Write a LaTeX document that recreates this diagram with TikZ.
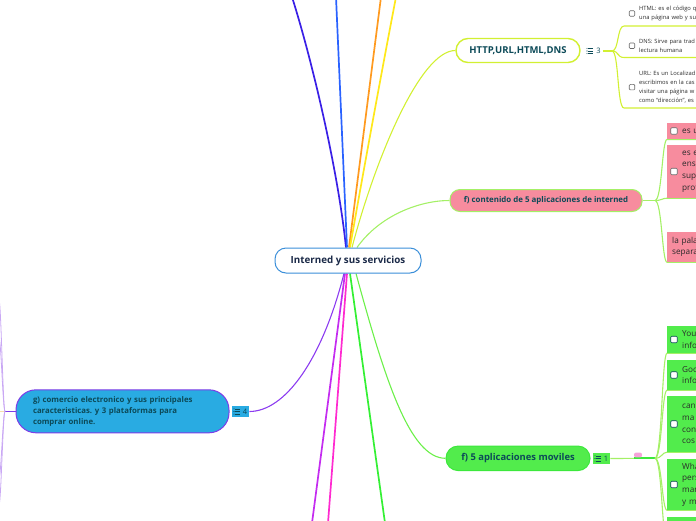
\documentclass[tikz,border=0pt]{standalone}
\usepackage{fontspec}
\setmainfont{Open Sans}
\usetikzlibrary{backgrounds}
\frenchspacing

\definecolor{rootblue}{HTML}{3B8FD9}
\definecolor{inknavy}{HTML}{1B2A48}
\definecolor{inkteal}{HTML}{0C4A58}
\definecolor{inkdark}{HTML}{2A2A2A}
\definecolor{boxgray}{HTML}{6A6A6A}
\definecolor{httpgreen}{HTML}{D2F032}
\definecolor{rosefill}{HTML}{F78C9E}
\definecolor{softgreen}{HTML}{A4F066}
\definecolor{cyanfill}{HTML}{29ABE2}
\definecolor{gpurple}{HTML}{7D3CE8}
\definecolor{lilac}{HTML}{C9A8F4}
\definecolor{beige}{HTML}{F6DDB0}
\definecolor{appgreen}{HTML}{52EC4C}
\definecolor{appline}{HTML}{3CE83C}
\definecolor{tagpink}{HTML}{F6A2DA}
\definecolor{cIndigo}{HTML}{3A20E6}
\definecolor{cBlue}{HTML}{2A62FF}
\definecolor{cOrange}{HTML}{FF9A1F}
\definecolor{cYellow}{HTML}{FFE81A}
\definecolor{cViolet}{HTML}{C42CF0}
\definecolor{cMagenta}{HTML}{FF2AD0}
\definecolor{cGreen}{HTML}{34F034}
\definecolor{cPurple}{HTML}{8C3CF0}
\definecolor{cAppCurve}{HTML}{6CF04A}

\tikzset{
  topic/.style={draw, line width=1pt, align=center, inner sep=0pt, text=inkteal},
  leaf/.style={anchor=west, minimum width=60pt, text width=50pt, align=left, inner xsep=3pt, inner ysep=0pt, font=\fontsize{8.2}{11.7}\selectfont, text=inkdark},
  chkleaf/.style={leaf, execute at begin node={\leftskip=10pt}},
  chk/.style={draw=boxgray, fill=white, rounded corners=1pt, minimum size=6.5pt, inner sep=0pt, line width=0.6pt},
  note/.style={anchor=south west, text width=80pt, align=left, inner xsep=0pt, inner ysep=5pt, font=\fontsize{5.8}{8.7}\selectfont, text=inkdark, execute at begin node={\leftskip=15pt}},
  badge/.style={inner xsep=2pt, inner ysep=0.5pt, minimum height=10.5pt, font=\fontsize{7.5}{7.5}\selectfont, text=inkteal},
  mainline/.style={line width=1.7pt},
  twig/.style={line width=1.1pt},
  listicon/.pic={
    \foreach \yy in {-2.6,0,2.6}{
      \fill (-3.2,\yy) circle (0.55);
      \draw[line width=0.6pt] (-1.8,\yy) -- (3.2,\yy);
    }
  }
}

\begin{document}
\begin{tikzpicture}[x=1pt, y=-1pt]
\useasboundingbox (0,0) rectangle (696,520);
\clip (0,0) rectangle (696,520);

% Nodes
\node[topic, draw=rootblue, fill=white, rounded corners=11pt, minimum width=146pt, minimum height=25pt, text=inknavy, font=\fontsize{9.8}{11}\bfseries\selectfont] (root) at (348,260.5) {Interned y sus servicios};
\node[topic, draw=httpgreen, line width=1.4pt, fill=white, rounded corners=12pt, minimum width=124pt, minimum height=24pt, font=\fontsize{9.5}{11}\bfseries\selectfont] (http) at (518,50.5) {HTTP,URL,HTML,DNS};
\node[topic, draw=softgreen, fill=rosefill, rounded corners=10pt, minimum width=192pt, minimum height=22pt, font=\fontsize{7.9}{9}\bfseries\selectfont] (contenido) at (546,200.5) {f) contenido de 5 aplicaciones de interned};
\node[topic, draw=gpurple, fill=cyanfill, rounded corners=20pt, minimum width=213pt, minimum height=43pt, text width=179pt, align=left, inner xsep=17pt, font=\fontsize{7.8}{11}\bfseries\selectfont] (comercio) at (122.5,411.3) {g) comercio electronico y sus principales\\caracteristicas. y 3 plataformas para\\comprar online.};
\node[topic, draw=appline, fill=appgreen, rounded corners=12pt, minimum width=144pt, minimum height=24.5pt, font=\fontsize{9.4}{11}\bfseries\selectfont] (moviles) at (518,458.3) {f) 5 aplicaciones moviles};

% Badges
\node[badge] (httpbadge) at (594,51) {\hspace{9pt}3};
\pic[inkteal] at ([xshift=5pt]httpbadge.west) {listicon};
\node[badge, fill=cyanfill] (combadge) at (240.5,411.5) {\hspace{9pt}4};
\pic[inkteal] at ([xshift=5.5pt]combadge.west) {listicon};
\node[badge, fill=appgreen] (movbadge) at (601.5,458.5) {\hspace{9pt}1};
\pic[inkteal] at ([xshift=5.5pt]movbadge.west) {listicon};
\node[fill=tagpink, rounded corners=2pt, minimum width=8pt, minimum height=4.8pt, inner sep=0pt] (tag) at (638,455) {};

% HTTP notes
\node[note] (html) at (624,26) {HTML: es el código q\\una página web y su};
\node[chk, minimum size=5.5pt] (htmlchk) at ([xshift=8pt]html.west) {};
\node[note] (dns) at (624,57.5) {DNS: Sirve para trad\\lectura humana};
\node[chk, minimum size=5.5pt] (dnschk) at ([xshift=8pt]dns.west) {};
\node[note] (url) at (624,108) {URL: Es un Localizad\\escribimos en la cas\\visitar una página w\\como ``dirección'', es};
\node[chk, minimum size=5.5pt] (urlchk) at ([xshift=8pt]url.west) {};

% contenido leaves
\node[chkleaf, fill=rosefill, minimum height=16.5pt] (rosa1) at (667,131) {es u};
\node[chk] (rosa1chk) at ([xshift=7pt]rosa1.west) {};
\node[chkleaf, fill=rosefill, minimum height=53pt] (rosa2) at (667,171.5) {es e\\ens\\sup\\prof};
\node[chk] (rosa2chk) at ([xshift=7pt]rosa2.west) {};
\node[leaf, fill=rosefill, minimum height=30pt] (rosa3) at (667,247) {la pala\\separa};

% moviles leaves
\node[chkleaf, fill=appgreen, minimum height=27pt] (app1) at (667,339.5) {You\\info};
\node[chk, draw=inkteal] (app1chk) at ([xshift=7pt]app1.west) {};
\node[chkleaf, fill=appgreen, minimum height=30pt] (app2) at (667,375) {Goo\\info};
\node[chk, draw=inkteal] (app2chk) at ([xshift=7pt]app2.west) {};
\node[chkleaf, fill=appgreen, minimum height=56pt] (app3) at (667,424) {can\\ma\\con\\cos};
\node[chk, draw=inkteal] (app3chk) at ([xshift=7pt]app3.west) {};
\node[chkleaf, fill=appgreen, minimum height=51pt] (app4) at (667,484.5) {Wha\\pers\\mar\\y m};
\node[chk, draw=inkteal] (app4chk) at ([xshift=7pt]app4.west) {};
\node[leaf, fill=appgreen, minimum height=24pt] (app5) at (667,529) {};

% free ends and forks
\coordinate (topIndigo) at (292,-3);
\coordinate (topBlue) at (336,-3);
\coordinate (topOrange) at (381,-3);
\coordinate (topYellow) at (396,-3);
\coordinate (botViolet) at (312,523);
\coordinate (botMagenta) at (328,523);
\coordinate (botGreen) at (385,523);
\coordinate (httpfork) at (612,51);
\coordinate (rosafork) at (655,200.5);
\coordinate (appfork) at (655,458.3);
\coordinate (comfork) at (5,411.3);
\coordinate (edgeA) at (-1,300);
\coordinate (edgeB) at (-1,338);
\coordinate (edgeC) at (-1,478);
\coordinate (edgeD) at (-1,505);

\begin{scope}[on background layer]
% Branches from the root
\draw[mainline, cIndigo] ([xshift=-2pt]root.north) .. controls (338,170) and (312,60) .. (topIndigo);
\draw[mainline, cBlue] ([xshift=-1pt]root.north) -- (topBlue);
\draw[mainline, cOrange] ([xshift=1pt]root.north) -- (topOrange);
\draw[mainline, cYellow] ([xshift=2pt]root.north) .. controls (360,190) and (380,80) .. (topYellow);
\draw[twig, httpgreen] ([xshift=4pt]root.north) .. controls (375,160) and (420,50.5) .. (http.west);
\draw[twig, softgreen] ([xshift=9pt]root.north) .. controls (380,215) and (420,200.5) .. (contenido.west);
\draw[mainline, cViolet] ([xshift=-3pt]root.south) -- (botViolet);
\draw[mainline, cMagenta] ([xshift=-1pt]root.south) -- (botMagenta);
\draw[mainline, cGreen] ([xshift=2pt]root.south) -- (botGreen);
\draw[twig, cAppCurve] ([xshift=8pt]root.south) .. controls (385,380) and (410,458.3) .. (moviles.west);
\draw[twig, cPurple] ([xshift=-4pt]root.south) .. controls (322,360) and (285,411.5) .. (combadge.east);

% HTTP children
\draw[twig, httpgreen] (httpbadge.east) -- (httpfork);
\foreach \kid in {html, dns, url}
  \draw[twig, httpgreen] (httpfork) .. controls (619,51) and (617,0 |- \kid.south west) .. (\kid.south west) -- (\kid.south east);

% contenido children
\draw[twig, softgreen] (contenido.east) -- (rosafork);
\foreach \kid in {rosa1, rosa2, rosa3}
  \draw[twig, softgreen] (rosafork) .. controls (662,200.5) and (662,0 |- \kid.south west) .. (\kid.south west) -- (\kid.south east);

% moviles children
\draw[twig, softgreen] (movbadge.east) -- (appfork);
\draw[line width=2pt, appline] (tag.west |- appfork) -- (appfork);
\foreach \kid in {app1, app2, app3, app4, app5}
  \draw[twig, softgreen] (appfork) .. controls (662,458.3) and (662,0 |- \kid.south west) .. (\kid.south west) -- (\kid.south east);

% comercio children, off the left edge
\draw[line width=0.8pt, beige] (-1,411.3) -- (comfork);
\draw[twig, gpurple] (comercio.west) -- (comfork);
\foreach \tip in {edgeA, edgeB, edgeC, edgeD}
  \draw[line width=0.8pt, lilac] (comfork) .. controls (3,411.3) and (1,0 |- \tip) .. (\tip);
\end{scope}
\end{tikzpicture}
\end{document}
